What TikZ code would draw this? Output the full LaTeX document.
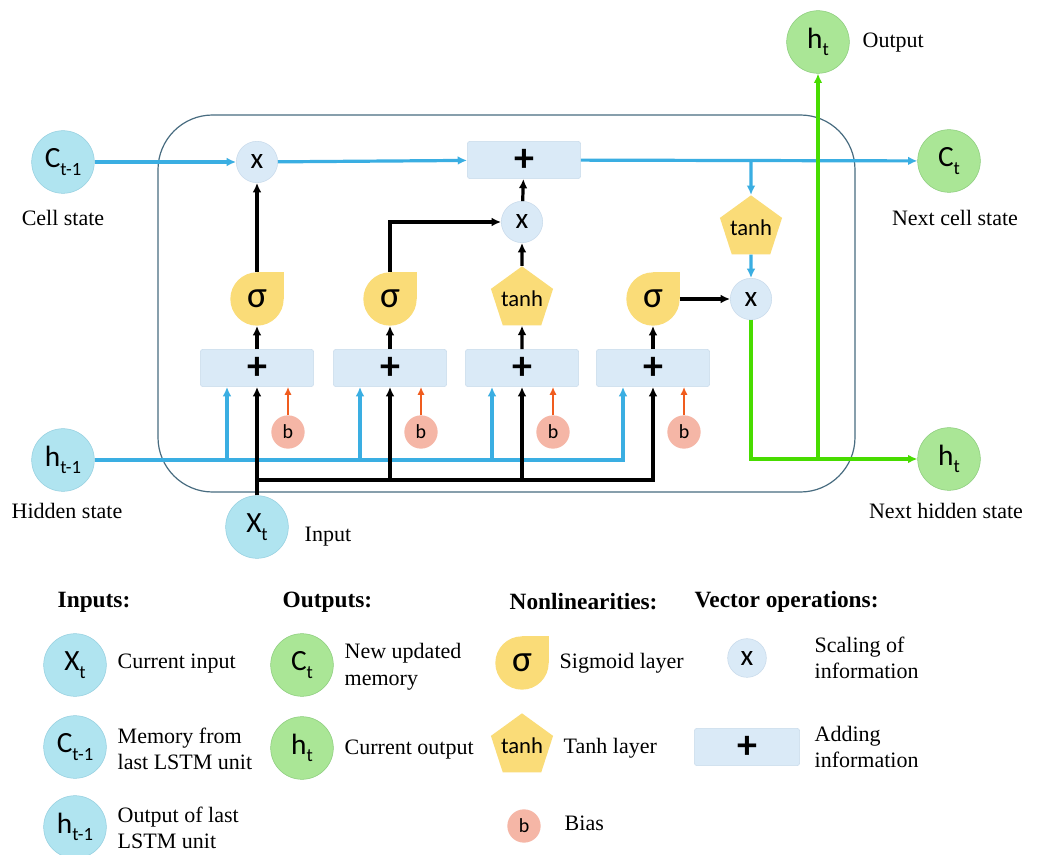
\documentclass[tikz,border=0pt]{standalone}
\usepackage{fontspec}
\setmainfont{Liberation Serif}
\newfontfamily\calfont{Carlito}
\usetikzlibrary{shapes.geometric,arrows.meta,calc,backgrounds}
\definecolor{cyfill}{RGB}{176,228,240}
\definecolor{cyline}{RGB}{150,208,224}
\definecolor{grfill}{RGB}{170,230,150}
\definecolor{grline}{RGB}{140,205,125}
\definecolor{opfill}{RGB}{218,234,247}
\definecolor{opline}{RGB}{200,218,235}
\definecolor{yel}{RGB}{250,220,120}
\definecolor{bfill}{RGB}{245,182,166}
\definecolor{bline}{RGB}{58,174,226}
\definecolor{gline}{RGB}{72,220,0}
\definecolor{oline}{RGB}{240,92,30}
\definecolor{frame}{RGB}{72,108,128}
\newcommand{\vs}[2]{#1\raisebox{-0.55ex}{\fontsize{14}{14}\selectfont #2}}
\tikzset{
  incirc/.style={circle, draw=cyline, line width=0.4pt, fill=cyfill, minimum size=47pt,
                 inner sep=0pt, font=\calfont\fontsize{22}{22}\selectfont},
  outcirc/.style={incirc, draw=grline, fill=grfill},
  mul/.style={circle, draw=opline, line width=0.4pt, fill=opfill, minimum size=31pt,
              inner sep=0pt, font=\calfont\fontsize{22}{22}\selectfont},
  addbox/.style={rectangle, rounded corners=2pt, draw=opline, line width=0.4pt, fill=opfill,
                 minimum width=85pt, minimum height=28pt, inner sep=0pt,
                 font=\calfont\bfseries\fontsize{30}{30}\selectfont},
  sig/.style={circle, fill=yel, minimum size=40pt, inner sep=0pt,
              font=\calfont\fontsize{28}{28}\selectfont},
  tnh/.style={regular polygon, regular polygon sides=5, fill=yel, minimum size=49pt,
              inner sep=-6pt, font=\calfont\fontsize{17}{17}\selectfont},
  bias/.style={circle, fill=bfill, minimum size=25pt, inner sep=0pt,
               font=\calfont\fontsize{15}{15}\selectfont},
  lbl/.style={font=\fontsize{16.5}{20}\selectfont, align=center},
  leg/.style={lbl, anchor=west, align=left},
  head/.style={anchor=west, font=\bfseries\fontsize{17.5}{20}\selectfont},
  blu/.style={draw=bline, line width=2.4pt, -{Latex[length=7pt,width=6.5pt]}},
  blk/.style={draw=black, line width=2.4pt, -{Latex[length=7pt,width=6.5pt]}},
  org/.style={draw=oline, line width=2pt, -{Latex[length=6pt,width=5.5pt]}},
  grn/.style={draw=gline, line width=2.4pt, -{Latex[length=7pt,width=6.5pt]}}
}
\begin{document}
\begin{tikzpicture}[x=0.75pt, y=-0.75pt]
  \useasboundingbox (0,0) rectangle (1040,855);
  % LSTM cell frame
  \draw[frame, line width=0.9pt, rounded corners=41pt] (158,115) rectangle (855,492);

  % inputs and outputs
  \node[incirc] (ctp) at (63,162) {\vs{C}{t-1}};
  \node[lbl] (lcell) at (63,218) {Cell state};
  \node[incirc] (hp) at (63,460) {\vs{h}{t-1}};
  \node[lbl] (lhid) at (67,511) {Hidden state};
  \node[incirc] (xin) at (257,527) {\vs{X}{t}};
  \node[lbl, anchor=west] (linput) at (300,537) {Input};
  \node[outcirc] (ct) at (949,161) {\vs{C}{t}};
  \node[lbl] (lnext) at (955,218) {Next cell state};
  \node[outcirc] (hto) at (818,42) {\vs{h}{t}};
  \node[lbl, anchor=west] (lout) at (858,43) {Output};
  \node[outcirc] (htn) at (949,459) {\vs{h}{t}};
  \node[lbl] (lnh) at (946,511) {Next hidden state};

  % cell state path
  \node[mul] (mf) at (257,162) {x};
  \node[addbox] (add) at (524,160) {+};
  \node[mul] (mi) at (522,222) {x};
  \node[tnh] (tc) at (751,228) {tanh};
  \node[mul] (mo) at (751,299) {x};

  % gates
  \node[sig] (s1) at (257,299) {σ};
  \node[sig] (s2) at (390,299) {σ};
  \node[tnh] (tg) at (522,299) {tanh};
  \node[sig] (s4) at (653,299) {σ};
  \foreach \i/\x in {1/257,2/390,3/522,4/653} {
    \node[addbox] (p\i) at (\x,368) {+};
    \node[bias] (b\i) at (\x+31,432) {b};
    \coordinate (hb\i) at ($(p\i.south)+(-30,0)$);
  }
  \coordinate (xj) at (257,480);

  % legend
  \node[head] (hin) at (53,602) {Inputs:};
  \node[head] (hout) at (278,602) {Outputs:};
  \node[head] (hnon) at (505,602) {Nonlinearities:};
  \node[head] (hvec) at (690,602) {Vector operations:};
  \node[incirc] (lx) at (75,665) {\vs{X}{t}};
  \node[leg] at (113,664) {Current input};
  \node[incirc] (lc) at (75,747) {\vs{C}{t-1}};
  \node[leg] at (113,749) {Memory from\\last LSTM unit};
  \node[incirc] (lh) at (75,827) {\vs{h}{t-1}};
  \node[leg] at (113,828) {Output of last\\LSTM unit};
  \node[outcirc] (lct) at (302,665) {\vs{C}{t}};
  \node[leg] at (340,667) {New updated\\memory};
  \node[outcirc] (lht) at (302,748) {\vs{h}{t}};
  \node[leg] at (340,750) {Current output};
  \node[sig] (lsig) at (522,663) {σ};
  \node[leg] at (555,663) {Sigmoid layer};
  \node[tnh] (ltanh) at (522,746) {tanh};
  \node[leg] at (559,748) {Tanh layer};
  \node[bias] (lb) at (524,826) {b};
  \node[leg] at (560,823) {Bias};
  \node[mul, minimum size=29pt] (lmul) at (747,658) {x};
  \node[leg] at (810,658) {Scaling of\\information};
  \node[addbox, minimum width=79pt] (ladd) at (747,747) {+};
  \node[leg] at (810,747) {Adding\\information};

  \begin{scope}[on background layer]
    \fill[white] (0,0) rectangle (1040,855);
    \foreach \s in {s1,s2,s4,lsig}
      \fill[yel] (\s.center) rectangle (\s.north -| \s.east);
  \end{scope}

  % connectors
  \draw[blu] (ctp) -- (mf);
  \draw[blu] (mf) -- (add);
  \draw[blu] (add) -- (ct);
  \draw[blu] (add.east -| tc) -- (tc);
  \draw[blu] (tc) -- (mo);
  \draw[blk] (s1) -- (mf);
  \draw[blk] (s2) |- (mi);
  \draw[blk] (tg) -- (mi);
  \draw[blk] (mi) -- (add);
  \draw[blk] (s4) -- (mo);
  \draw[blk] (p1) -- (s1);
  \draw[blk] (p2) -- (s2);
  \draw[blk] (p3) -- (tg);
  \draw[blk] (p4) -- (s4);
  \draw[blu] (hp) -| (hb4);
  \foreach \i in {1,2,3}
    \draw[blu] (hb\i |- hp) -- (hb\i);
  \foreach \i in {1,2,3,4}
    \draw[org] (b\i) -- (b\i |- p\i.south);
  \draw[blk] (xin) -- (p1);
  \draw[blk] (xj) -| (p4);
  \foreach \i in {2,3}
    \draw[blk] (xj -| p\i) -- (p\i);
  \draw[grn] (mo) |- (htn);
  \draw[grn] (htn -| hto) -- (hto);
\end{tikzpicture}
\end{document}
